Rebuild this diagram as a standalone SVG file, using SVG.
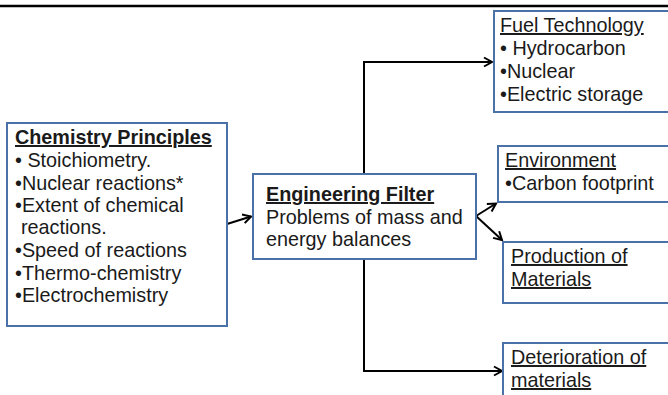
<svg xmlns="http://www.w3.org/2000/svg" width="668" height="395" viewBox="0 0 668 395">
<defs>
<style>
.box{fill:#fff;stroke:#4A72A8;stroke-width:2}
.t{font-family:"Liberation Sans",Arial,sans-serif;font-size:19.8px;fill:#1a1a1a}
.h{text-decoration:underline}
.b{font-weight:bold}
.c{fill:none;stroke:#000;stroke-width:2}
</style>
<marker id="arr" markerUnits="userSpaceOnUse" markerWidth="12" markerHeight="12" refX="9" refY="5" orient="auto" viewBox="0 0 12 10">
<path d="M1,0.5 L9,5 L1,9.5" fill="none" stroke="#000" stroke-width="2"/>
</marker>
</defs>
<rect width="668" height="395" fill="#fff"/>
<line x1="0" y1="6" x2="668" y2="6" stroke="#000" stroke-width="2.5"/>
<g id="connectors">
<line class="c" x1="227" y1="224" x2="251" y2="216.5" marker-end="url(#arr)"/>
<path class="c" d="M364,174 V62 H492" marker-end="url(#arr)"/>
<path class="c" d="M364,259 V371 H502" marker-end="url(#arr)"/>
<line class="c" x1="476" y1="216" x2="496" y2="203.5" marker-end="url(#arr)"/>
<line class="c" x1="476" y1="216" x2="502" y2="240" marker-end="url(#arr)"/>
</g>
<g id="chemistry">
<rect class="box" x="7" y="123" width="220" height="203"/>
<text class="t b h" x="15" y="144">Chemistry Principles</text>
<text class="t" x="15" y="167">• Stoichiometry.</text>
<text class="t" x="15" y="190">•Nuclear reactions*</text>
<text class="t" x="15" y="212">•Extent of chemical</text>
<text class="t" x="21" y="234">reactions.</text>
<text class="t" x="15" y="257">•Speed of reactions</text>
<text class="t" x="15" y="280">•Thermo-chemistry</text>
<text class="t" x="15" y="302">•Electrochemistry</text>
</g>
<g id="engineering">
<rect class="box" x="253" y="174" width="223" height="85"/>
<text class="t b h" x="266" y="201">Engineering Filter</text>
<text class="t" x="266" y="224">Problems of mass and</text>
<text class="t" x="266" y="246">energy balances</text>
</g>
<g id="fuel">
<rect class="box" x="494" y="11" width="190" height="101"/>
<text class="t h" x="500" y="32">Fuel Technology</text>
<text class="t" x="500" y="55">• Hydrocarbon</text>
<text class="t" x="500" y="78">•Nuclear</text>
<text class="t" x="500" y="101">•Electric storage</text>
</g>
<g id="environment">
<rect class="box" x="498" y="146" width="190" height="56"/>
<text class="t h" x="505" y="167">Environment</text>
<text class="t" x="505" y="190">•Carbon footprint</text>
</g>
<g id="production">
<rect class="box" x="503" y="242" width="190" height="61"/>
<text class="t h" x="511" y="263">Production of</text>
<text class="t h" x="511" y="286">Materials</text>
</g>
<g id="deterioration">
<rect class="box" x="503" y="343" width="190" height="70"/>
<text class="t h" x="511" y="364">Deterioration of</text>
<text class="t h" x="511" y="387">materials</text>
</g>
</svg>
